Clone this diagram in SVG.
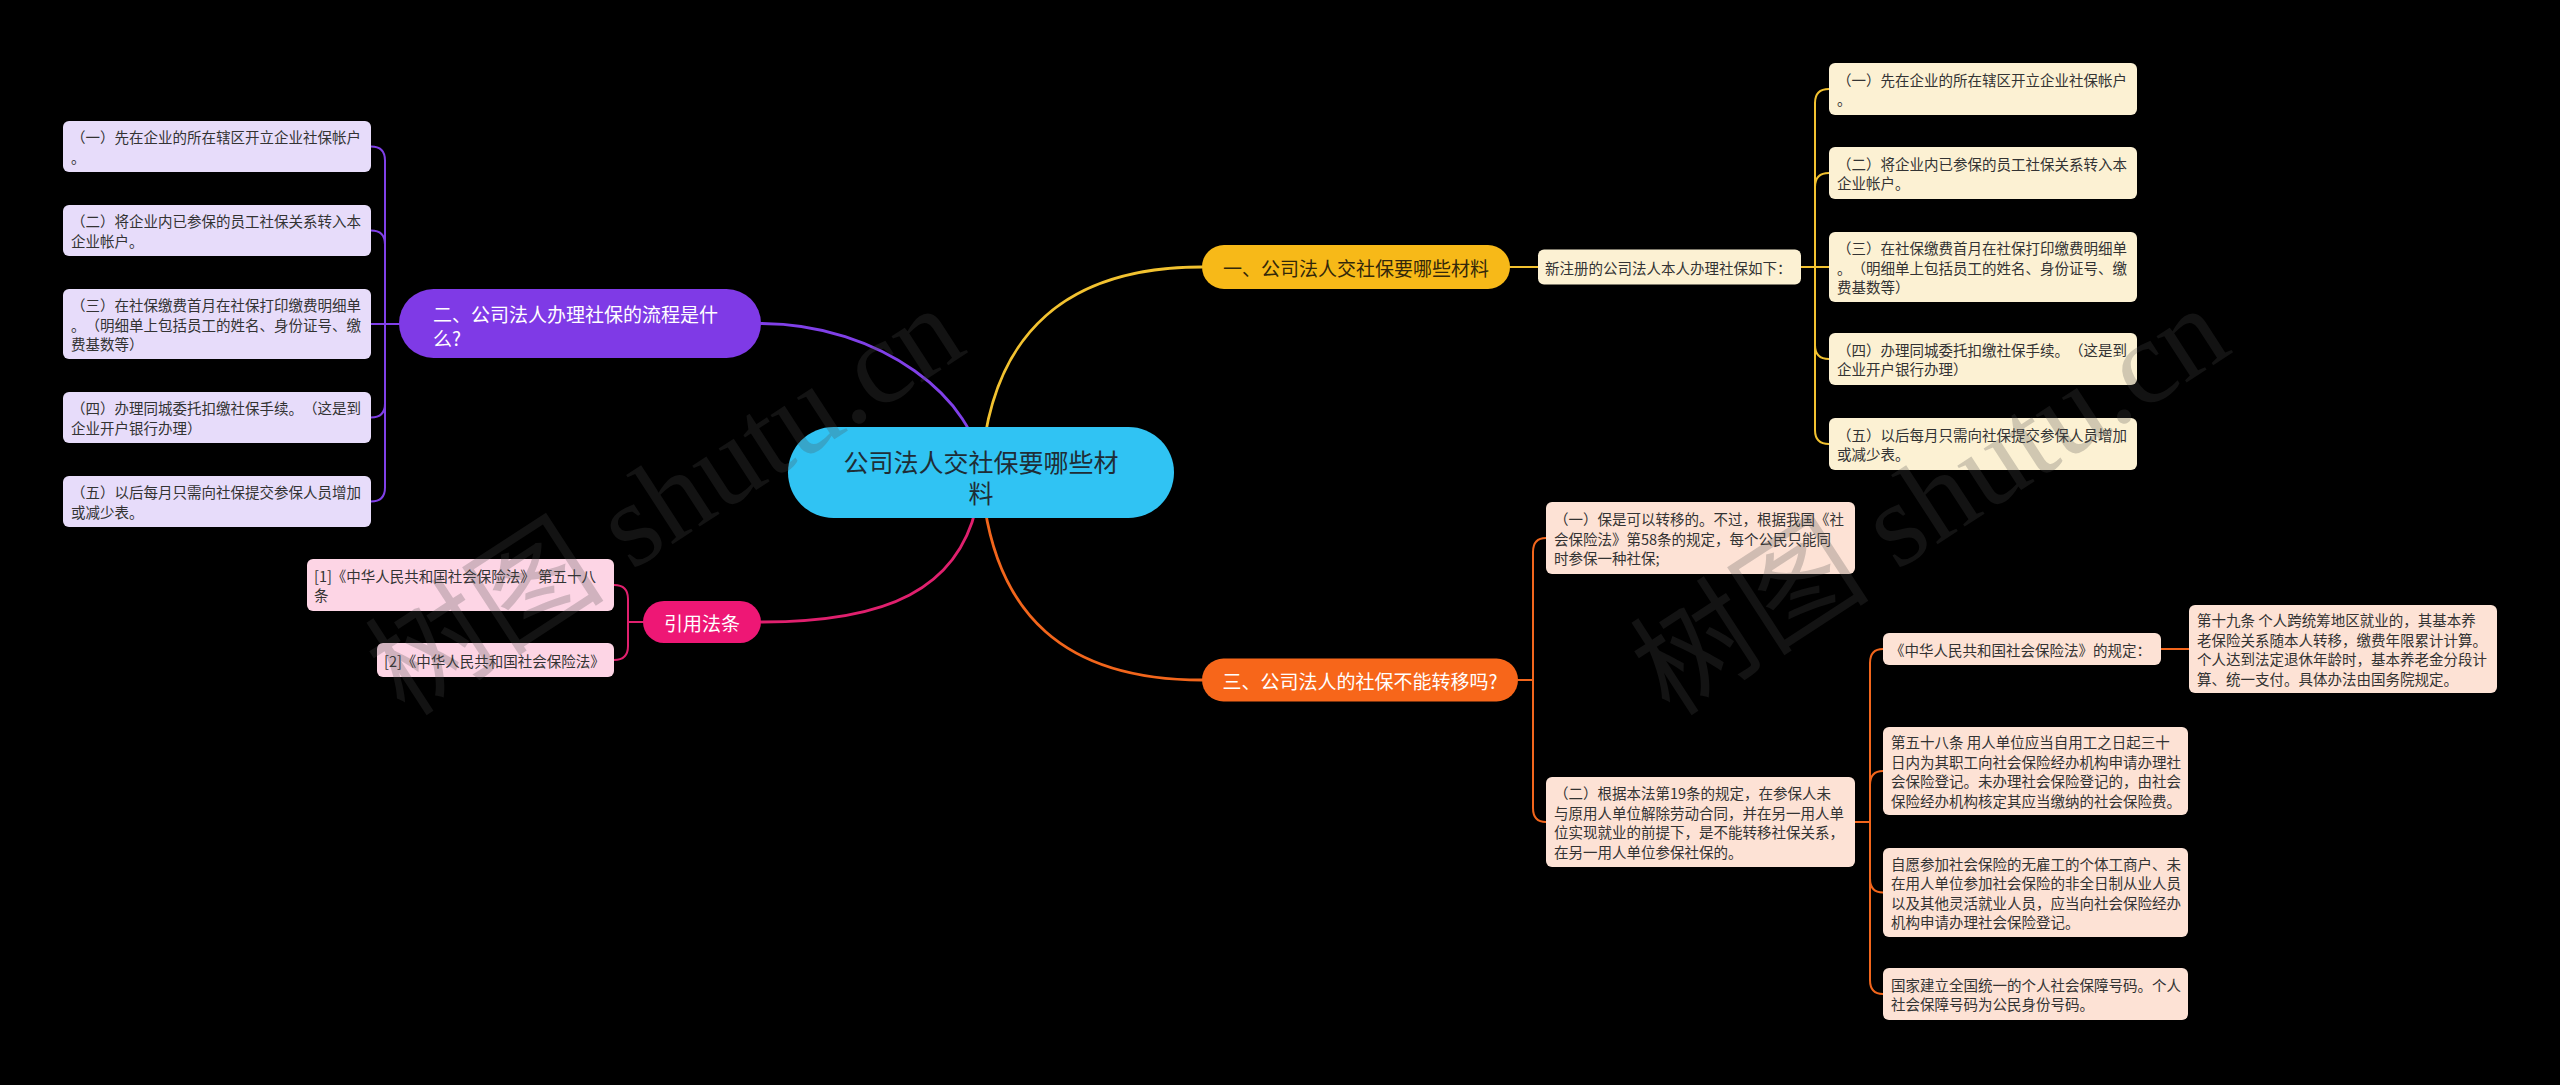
<svg xmlns="http://www.w3.org/2000/svg" width="2560" height="1085" viewBox="0 0 2560 1085">
<defs>
<style>
.t{font-family:"Noto Sans CJK SC","Liberation Sans",sans-serif;dominant-baseline:central;text-spacing-trim:space-all}
.lf{font-size:14.5px;fill:#333333}
.br{font-size:19px;fill:#ffffff}
.c{fill:none;stroke-linecap:round;stroke-linejoin:round}
.main{stroke-width:2.8}
.sub{stroke-width:2}
.pu{stroke:#8040e8}
.ye{stroke:#f2c230}
.pk{stroke:#e0206e}
.or{stroke:#f2661c}
.lpu{fill:#e7dcfa}
.lye{fill:#fcf1d3}
.lpk{fill:#fdd5e5}
.lor{fill:#fde2d5}
.wm{font-family:"Liberation Serif","Noto Sans CJK SC",serif;font-size:120px;fill:#4a4a4a;fill-opacity:0.25}
</style>
</defs>
<rect width="2560" height="1085" fill="#000000"/>

<g id="connectors">
<path class="c main pu" d="M981 472 C978 400 880 323.5 761 323.5"/>
<path class="c main ye" d="M981 472 C990 330 1070 267 1202 267"/>
<path class="c main pk" d="M981 472 C975 600 870 622 761 622"/>
<path class="c main or" d="M981 472 C990 620 1070 680 1202 680"/>

<path class="c sub pu" d="M399 324 H371 M385 324 V160.5 Q385 146.5 371 146.5 M385 324 V244.5 Q385 230.5 371 230.5 M385 324 V403.5 Q385 417.5 371 417.5 M385 324 V487.5 Q385 501.5 371 501.5"/>

<path class="c sub ye" d="M1510 267 H1538 M1801 267 H1829 M1815 267 V103 Q1815 89 1829 89 M1815 267 V187 Q1815 173 1829 173 M1815 267 V345 Q1815 359 1829 359 M1815 267 V430 Q1815 444 1829 444"/>

<path class="c sub pk" d="M643 622 H628 M628 622 V599 Q628 585 614 585 M628 622 V646 Q628 660 614 660"/>

<path class="c sub or" d="M1518 680 H1533 M1533 680 V552 Q1533 538 1546 538 M1533 680 V808 Q1533 822 1546 822"/>
<path class="c sub or" d="M1855 822 H1870 M1870 822 V663 Q1870 649 1883 649 M1870 822 V785 Q1870 771 1883 771 M1870 822 V878.5 Q1870 892.5 1883 892.5 M1870 822 V980 Q1870 994 1883 994 M2161 649 H2189"/>
</g>

<g id="center">
<rect x="788" y="427" width="386" height="91" rx="45.5" fill="#30c3f3"/>
<text class="t" x="981" y="461" font-size="25" fill="#1f2d36" text-anchor="middle">公司法人交社保要哪些材</text>
<text class="t" x="981" y="492" font-size="25" fill="#1f2d36" text-anchor="middle">料</text>
</g>

<g id="branch2">
<rect x="399" y="289" width="362" height="69" rx="34.5" fill="#7f3ae6"/>
<text class="t br" x="433" y="313">二、公司法人办理社保的流程是什</text>
<text class="t br" x="433" y="337">么?</text>
</g>

<g id="b2-leaf1">
<rect class="lpu" x="63" y="121" width="308" height="51" rx="6"/>
<text class="t lf" x="71" y="136.75">（一）先在企业的所在辖区开立企业社保帐户</text>
<text class="t lf" x="71" y="156.25">。</text>
</g>
<g id="b2-leaf2">
<rect class="lpu" x="63" y="205" width="308" height="51" rx="6"/>
<text class="t lf" x="71" y="220.75">（二）将企业内已参保的员工社保关系转入本</text>
<text class="t lf" x="71" y="240.25">企业帐户。</text>
</g>
<g id="b2-leaf3">
<rect class="lpu" x="63" y="289" width="308" height="70" rx="6"/>
<text class="t lf" x="71" y="304.5">（三）在社保缴费首月在社保打印缴费明细单</text>
<text class="t lf" x="71" y="324">。（明细单上包括员工的姓名、身份证号、缴</text>
<text class="t lf" x="71" y="343.5">费基数等）</text>
</g>
<g id="b2-leaf4">
<rect class="lpu" x="63" y="392" width="308" height="51" rx="6"/>
<text class="t lf" x="71" y="407.75">（四）办理同城委托扣缴社保手续。（这是到</text>
<text class="t lf" x="71" y="427.25">企业开户银行办理）</text>
</g>
<g id="b2-leaf5">
<rect class="lpu" x="63" y="476" width="308" height="51" rx="6"/>
<text class="t lf" x="71" y="491.75">（五）以后每月只需向社保提交参保人员增加</text>
<text class="t lf" x="71" y="511.25">或减少表。</text>
</g>

<g id="branch-cite">
<rect x="643" y="601" width="118" height="42" rx="21" fill="#ee1775"/>
<text class="t br" x="702" y="622" text-anchor="middle">引用法条</text>
</g>
<g id="cite1">
<rect class="lpk" x="307" y="559" width="307" height="52" rx="6"/>
<text class="t lf" x="314" y="575.25">[1]《中华人民共和国社会保险法》 第五十八</text>
<text class="t lf" x="314" y="594.75">条</text>
</g>
<g id="cite2">
<rect class="lpk" x="377" y="643" width="237" height="34" rx="6"/>
<text class="t lf" x="384" y="660">[2]《中华人民共和国社会保险法》</text>
</g>

<g id="branch1">
<rect x="1202" y="245" width="308" height="44" rx="22" fill="#f7b918"/>
<text class="t" x="1356" y="267" font-size="19" fill="#33280a" text-anchor="middle">一、公司法人交社保要哪些材料</text>
</g>
<g id="b1-intro">
<rect class="lye" x="1538" y="249.5" width="263" height="35" rx="6"/>
<text class="t lf" x="1545" y="267">新注册的公司法人本人办理社保如下：</text>
</g>
<g id="b1-leaf1">
<rect class="lye" x="1829" y="63" width="308" height="52" rx="6"/>
<text class="t lf" x="1837" y="79.25">（一）先在企业的所在辖区开立企业社保帐户</text>
<text class="t lf" x="1837" y="98.75">。</text>
</g>
<g id="b1-leaf2">
<rect class="lye" x="1829" y="147" width="308" height="52" rx="6"/>
<text class="t lf" x="1837" y="163.25">（二）将企业内已参保的员工社保关系转入本</text>
<text class="t lf" x="1837" y="182.75">企业帐户。</text>
</g>
<g id="b1-leaf3">
<rect class="lye" x="1829" y="232" width="308" height="70" rx="6"/>
<text class="t lf" x="1837" y="247.5">（三）在社保缴费首月在社保打印缴费明细单</text>
<text class="t lf" x="1837" y="267">。（明细单上包括员工的姓名、身份证号、缴</text>
<text class="t lf" x="1837" y="286.5">费基数等）</text>
</g>
<g id="b1-leaf4">
<rect class="lye" x="1829" y="333" width="308" height="52" rx="6"/>
<text class="t lf" x="1837" y="349.25">（四）办理同城委托扣缴社保手续。（这是到</text>
<text class="t lf" x="1837" y="368.75">企业开户银行办理）</text>
</g>
<g id="b1-leaf5">
<rect class="lye" x="1829" y="418" width="308" height="52" rx="6"/>
<text class="t lf" x="1837" y="434.25">（五）以后每月只需向社保提交参保人员增加</text>
<text class="t lf" x="1837" y="453.75">或减少表。</text>
</g>

<g id="branch3">
<rect x="1202" y="658.5" width="316" height="43" rx="21.5" fill="#f7661a"/>
<text class="t br" x="1360" y="680" text-anchor="middle">三、公司法人的社保不能转移吗?</text>
</g>
<g id="b3-leafA">
<rect class="lor" x="1546" y="502" width="309" height="72" rx="6"/>
<text class="t lf" x="1554" y="518.5">（一）保是可以转移的。不过，根据我国《社</text>
<text class="t lf" x="1554" y="538">会保险法》第58条的规定，每个公民只能同</text>
<text class="t lf" x="1554" y="557.5">时参保一种社保;</text>
</g>
<g id="b3-leafB">
<rect class="lor" x="1546" y="777" width="309" height="90" rx="6"/>
<text class="t lf" x="1554" y="792.75">（二）根据本法第19条的规定，在参保人未</text>
<text class="t lf" x="1554" y="812.25">与原用人单位解除劳动合同，并在另一用人单</text>
<text class="t lf" x="1554" y="831.75">位实现就业的前提下，是不能转移社保关系，</text>
<text class="t lf" x="1554" y="851.25">在另一用人单位参保社保的。</text>
</g>
<g id="law-c1">
<rect class="lor" x="1883" y="633" width="278" height="32" rx="6"/>
<text class="t lf" x="1890" y="649">《中华人民共和国社会保险法》的规定：</text>
</g>
<g id="law-d">
<rect class="lor" x="2189" y="605" width="308" height="88" rx="6"/>
<text class="t lf" x="2197" y="619.75">第十九条 个人跨统筹地区就业的，其基本养</text>
<text class="t lf" x="2197" y="639.25">老保险关系随本人转移，缴费年限累计计算。</text>
<text class="t lf" x="2197" y="658.75">个人达到法定退休年龄时，基本养老金分段计</text>
<text class="t lf" x="2197" y="678.25">算、统一支付。具体办法由国务院规定。</text>
</g>
<g id="law-c2">
<rect class="lor" x="1883" y="727" width="305" height="88" rx="6"/>
<text class="t lf" x="1891" y="741.75">第五十八条 用人单位应当自用工之日起三十</text>
<text class="t lf" x="1891" y="761.25">日内为其职工向社会保险经办机构申请办理社</text>
<text class="t lf" x="1891" y="780.75">会保险登记。未办理社会保险登记的，由社会</text>
<text class="t lf" x="1891" y="800.25">保险经办机构核定其应当缴纳的社会保险费。</text>
</g>
<g id="law-c3">
<rect class="lor" x="1883" y="848" width="305" height="89" rx="6"/>
<text class="t lf" x="1891" y="863.25">自愿参加社会保险的无雇工的个体工商户、未</text>
<text class="t lf" x="1891" y="882.75">在用人单位参加社会保险的非全日制从业人员</text>
<text class="t lf" x="1891" y="902.25">以及其他灵活就业人员，应当向社会保险经办</text>
<text class="t lf" x="1891" y="921.75">机构申请办理社会保险登记。</text>
</g>
<g id="law-c4">
<rect class="lor" x="1883" y="968" width="305" height="52" rx="6"/>
<text class="t lf" x="1891" y="984.25">国家建立全国统一的个人社会保障号码。个人</text>
<text class="t lf" x="1891" y="1003.75">社会保障号码为公民身份号码。</text>
</g>

<g id="watermark">
<text class="wm" transform="translate(405,718) rotate(-33)">树图 shutu.cn</text>
<text class="wm" transform="translate(1670,718) rotate(-33)">树图 shutu.cn</text>
</g>
</svg>
